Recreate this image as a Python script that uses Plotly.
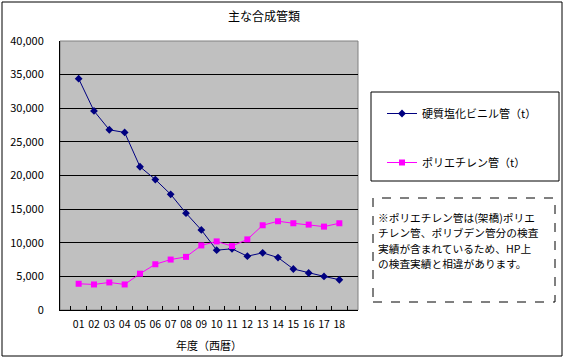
import plotly.graph_objects as go

years = ["01","02","03","04","05","06","07","08","09","10","11","12","13","14","15","16","17","18"]
pvc = [34400, 29600, 26800, 26400, 21300, 19400, 17200, 14400, 11900, 8900, 9100, 8000, 8500, 7800, 6100, 5500, 5000, 4500]
pe = [3900, 3800, 4100, 3800, 5400, 6800, 7500, 7900, 9600, 10200, 9500, 10500, 12600, 13200, 12900, 12700, 12400, 12900]
y_ticks = [0, 5000, 10000, 15000, 20000, 25000, 30000, 35000, 40000]
y_tick_labels = ["0", "5,000", "10,000", "15,000", "20,000", "25,000", "30,000", "35,000", "40,000"]
note_lines = ["※ポリエチレン管は(架橋)ポリエ", "チレン管、ポリブデン管分の検査",
              "実績が含まれているため、HP上", "の検査実績と相違があります。"]

FONT = "Noto Sans CJK JP"
L, T, PW, PH = 60, 41, 298, 269

def px(x):
    return (x - L) / PW

def py(y):
    return (T + PH - y) / PH

fig = go.Figure()
fig.add_trace(go.Scatter(x=years, y=pvc, name="硬質塩化ビニル管（t）", mode="lines+markers",
                         line=dict(color="#000080", width=1),
                         marker=dict(symbol="diamond", size=6, color="#000080"),
                         legendgroup="a"))
fig.add_trace(go.Scatter(x=years, y=pe, name="ポリエチレン管（t）", mode="lines+markers",
                         line=dict(color="#FF00FF", width=1),
                         marker=dict(symbol="square", size=6, color="#FF00FF"),
                         legendgroup="b"))

shapes = [
    dict(type="rect", xref="paper", yref="paper", x0=px(2), x1=px(562), y0=py(356), y1=py(2),
         line=dict(color="black", width=1), fillcolor="rgba(0,0,0,0)", layer="below"),
    dict(type="rect", xref="paper", yref="paper", x0=0, x1=1, y0=0, y1=1,
         line=dict(color="#808080", width=1), fillcolor="rgba(0,0,0,0)", layer="between"),
    dict(type="rect", xref="paper", yref="paper", x0=px(371), x1=px(559), y0=py(181), y1=py(92),
         line=dict(color="black", width=1), fillcolor="rgba(0,0,0,0)"),
    dict(type="rect", xref="paper", yref="paper", x0=px(373), x1=px(555), y0=py(302), y1=py(198),
         line=dict(color="black", width=1, dash="dash"), fillcolor="rgba(0,0,0,0)"),
]

annotations = []
for i, line in enumerate(note_lines):
    annotations.append(dict(text=line, xref="paper", yref="paper", x=px(376), y=py(217 + 15.6 * i),
                            xanchor="left", yanchor="middle", align="left", showarrow=False,
                            font=dict(size=10.7, family=FONT)))

fig.update_layout(
    width=565, height=360,
    margin=dict(l=L, r=565 - L - PW, t=T, b=360 - T - PH, autoexpand=False),
    paper_bgcolor="white", plot_bgcolor="#C0C0C0",
    font=dict(family=FONT, size=11, color="black"),
    title=dict(text="主な合成管類", x=264 / 565, xanchor="center", y=1 - 17 / 360, yanchor="middle",
               font=dict(size=12, family=FONT)),
    showlegend=True,
    legend=dict(x=px(382), y=py(99), xanchor="left", yanchor="top", bgcolor="rgba(0,0,0,0)",
                borderwidth=0, tracegroupgap=30, itemwidth=30, font=dict(size=11, family=FONT)),
    shapes=shapes,
    annotations=annotations,
    xaxis=dict(type="category", showgrid=False, ticks="inside", tickson="boundaries", ticklen=4,
               tickcolor="black", showline=True, linecolor="black", mirror=False,
               tickangle=0, ticklabelstandoff=4,
               title=dict(text="年度（西暦）", font=dict(size=11), standoff=12),
               tickfont=dict(size=10.5)),
    yaxis=dict(range=[0, 40000], tickvals=y_ticks, ticktext=y_tick_labels, showgrid=True,
               gridcolor="black", gridwidth=1, showline=True, linecolor="black", mirror=False,
               zeroline=False, tickfont=dict(size=11), ticklen=0, ticklabelstandoff=13),
)

fig.write_html("out.html", config={"displayModeBar": False},
               post_script="document.body.style.margin='0';document.body.style.overflow='hidden';")
